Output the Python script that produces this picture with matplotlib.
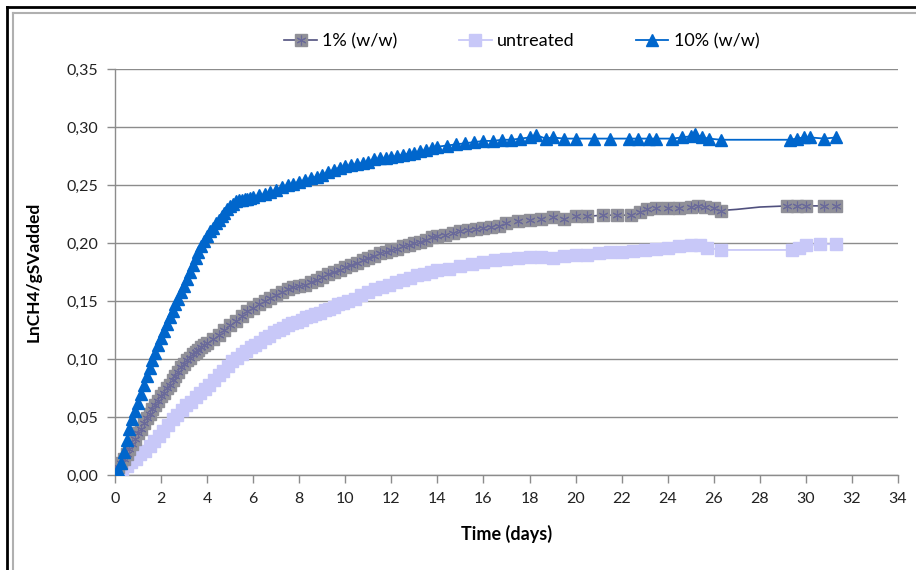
import numpy as np
import matplotlib.pyplot as plt
from matplotlib.lines import Line2D
from matplotlib.legend_handler import HandlerTuple
from matplotlib.ticker import FuncFormatter

plt.rcParams['font.family'] = ['Lato', 'DejaVu Sans']

# 10% (w/w)
t10 = [0, 0.125, 0.25, 0.375, 0.5, 0.625, 0.75, 0.875, 1.0, 1.125, 1.25, 1.375, 1.5, 1.625,
       1.75, 1.875, 2.0, 2.125, 2.25, 2.375, 2.5, 2.625, 2.75, 2.875, 3.0, 3.125, 3.25, 3.375,
       3.5, 3.625, 3.75, 3.875, 4.0, 4.125, 4.25, 4.375, 4.5, 4.625, 4.75, 4.875, 5.0, 5.125,
       5.25, 5.375, 5.5, 5.625, 5.75, 5.875, 6.0, 6.25, 6.5, 6.75, 7.0, 7.25, 7.5, 7.75, 8.0,
       8.25, 8.5, 8.75, 9.0, 9.25, 9.5, 9.75, 10.0, 10.25, 10.5, 10.75, 11.0, 11.25, 11.5,
       11.75, 12.0, 12.25, 12.5, 12.75, 13.0, 13.25, 13.5, 13.75, 14.0, 14.4, 14.8, 15.2, 15.6,
       16.0, 16.4, 16.8, 17.2, 17.6, 18.0, 18.3, 18.7, 19.0, 19.5, 20.0, 20.8, 21.5, 22.3,
       22.7, 23.2, 23.5, 24.2, 24.6, 25.0, 25.2, 25.5, 25.8, 26.3, 29.3, 29.6, 29.9, 30.2,
       30.8, 31.3]
y10 = [0.000, 0.004, 0.010, 0.020, 0.030, 0.040, 0.048, 0.055, 0.062, 0.070, 0.078, 0.085,
       0.092, 0.099, 0.105, 0.112, 0.118, 0.124, 0.130, 0.136, 0.141, 0.147, 0.152, 0.158,
       0.163, 0.169, 0.175, 0.181, 0.187, 0.192, 0.197, 0.202, 0.206, 0.210, 0.213, 0.217,
       0.220, 0.223, 0.226, 0.229, 0.232, 0.234, 0.236, 0.237, 0.237, 0.238, 0.238, 0.239,
       0.240, 0.241, 0.242, 0.244, 0.246, 0.248, 0.250, 0.251, 0.253, 0.254, 0.256, 0.257,
       0.259, 0.261, 0.263, 0.265, 0.266, 0.267, 0.268, 0.269, 0.270, 0.272, 0.273, 0.273,
       0.274, 0.275, 0.276, 0.277, 0.278, 0.279, 0.280, 0.282, 0.283, 0.284, 0.285, 0.286,
       0.287, 0.288, 0.288, 0.289, 0.289, 0.290, 0.291, 0.293, 0.290, 0.291, 0.290, 0.290,
       0.290, 0.290, 0.290, 0.290, 0.290, 0.290, 0.290, 0.291, 0.292, 0.294, 0.291, 0.290,
       0.289, 0.289, 0.290, 0.291, 0.291, 0.290, 0.291]

# 1% (w/w)
t1 = [0, 0.125, 0.25, 0.375, 0.5, 0.625, 0.75, 0.875, 1.0, 1.125, 1.25, 1.375, 1.5, 1.625,
      1.75, 1.875, 2.0, 2.125, 2.25, 2.375, 2.5, 2.625, 2.75, 2.875, 3.0, 3.125, 3.25, 3.375,
      3.5, 3.625, 3.75, 3.875, 4.0, 4.25, 4.5, 4.75, 5.0, 5.25, 5.5, 5.75, 6.0, 6.25, 6.5,
      6.75, 7.0, 7.25, 7.5, 7.75, 8.0, 8.25, 8.5, 8.75, 9.0, 9.25, 9.5, 9.75, 10.0, 10.25,
      10.5, 10.75, 11.0, 11.25, 11.5, 11.75, 12.0, 12.25, 12.5, 12.75, 13.0, 13.25, 13.5,
      13.75, 14.0, 14.33, 14.67, 15.0, 15.33, 15.67, 16.0, 16.33, 16.67, 17.0, 17.5, 18.0,
      18.5, 19.0, 19.5, 20.0, 20.5, 21.2, 21.8, 22.4, 22.8, 23.1, 23.5, 24.0, 24.5, 25.0,
      25.3, 25.6, 26.0, 26.3, 27.0, 28.0, 29.2, 29.6, 30.0, 30.8, 31.3]
y1 = [0.004, 0.007, 0.010, 0.014, 0.018, 0.022, 0.027, 0.031, 0.036, 0.040, 0.045, 0.049,
      0.053, 0.057, 0.060, 0.064, 0.068, 0.071, 0.075, 0.078, 0.082, 0.085, 0.089, 0.093,
      0.096, 0.099, 0.101, 0.104, 0.106, 0.108, 0.110, 0.112, 0.114, 0.117, 0.121, 0.125,
      0.129, 0.133, 0.137, 0.141, 0.144, 0.147, 0.150, 0.153, 0.155, 0.158, 0.160, 0.162,
      0.163, 0.164, 0.166, 0.168, 0.171, 0.173, 0.175, 0.177, 0.179, 0.181, 0.183, 0.185,
      0.187, 0.189, 0.191, 0.192, 0.194, 0.195, 0.197, 0.198, 0.200, 0.201, 0.203, 0.205,
      0.206, 0.207, 0.209, 0.210, 0.211, 0.212, 0.213, 0.214, 0.215, 0.217, 0.219, 0.220,
      0.221, 0.222, 0.221, 0.223, 0.223, 0.224, 0.224, 0.224, 0.227, 0.229, 0.230, 0.230,
      0.230, 0.231, 0.232, 0.231, 0.230, 0.228, 0.229, 0.231, 0.232, 0.232, 0.232, 0.232,
      0.232]
m1 = [i for i, t in enumerate(t1) if t not in (27.0, 28.0)]

# untreated
tu = [0.3, 0.5, 0.7, 0.9, 1.1, 1.3, 1.5, 1.7, 1.9, 2.1, 2.3, 2.5, 2.7, 2.9, 3.1, 3.3, 3.5,
      3.7, 3.9, 4.1, 4.3, 4.5, 4.7, 4.9, 5.1, 5.3, 5.5, 5.7, 5.9, 6.1, 6.3, 6.5, 6.7, 6.9,
      7.1, 7.3, 7.5, 7.7, 7.9, 8.1, 8.3, 8.5, 8.7, 8.9, 9.1, 9.3, 9.5, 9.7, 9.9, 10.1, 10.4,
      10.7, 11.0, 11.3, 11.6, 11.9, 12.2, 12.5, 12.8, 13.1, 13.4, 13.7, 14.0, 14.5, 15.0,
      15.5, 16.0, 16.5, 17.0, 17.5, 18.0, 18.5, 19.0, 19.5, 20.0, 20.5, 21.0, 21.5, 22.0,
      22.5, 23.0, 23.5, 24.0, 24.5, 25.0, 25.4, 25.7, 26.3, 29.4, 29.7, 30.0, 30.6, 31.3]
yu = [0.004, 0.008, 0.011, 0.014, 0.018, 0.021, 0.025, 0.029, 0.034, 0.038, 0.043, 0.048,
      0.052, 0.056, 0.060, 0.063, 0.067, 0.071, 0.074, 0.078, 0.082, 0.086, 0.090, 0.094,
      0.098, 0.101, 0.104, 0.107, 0.110, 0.112, 0.115, 0.118, 0.120, 0.123, 0.125, 0.127,
      0.129, 0.131, 0.132, 0.134, 0.136, 0.137, 0.139, 0.140, 0.142, 0.143, 0.145, 0.147,
      0.148, 0.150, 0.152, 0.155, 0.158, 0.160, 0.162, 0.164, 0.166, 0.168, 0.170, 0.172,
      0.173, 0.175, 0.177, 0.178, 0.180, 0.182, 0.184, 0.185, 0.186, 0.187, 0.188, 0.188,
      0.187, 0.189, 0.190, 0.190, 0.191, 0.192, 0.192, 0.193, 0.194, 0.195, 0.196, 0.197,
      0.198, 0.198, 0.196, 0.194, 0.194, 0.196, 0.198, 0.199, 0.199]

xticks = np.arange(0, 35, 2)
yticks = np.arange(0, 0.351, 0.05)

fig = plt.figure(figsize=(9.16, 5.70), dpi=100)
ax = fig.add_axes([115/916, 1 - 475/570, 783/916, 406/570])

c_blue = '#0066cc'
c_grey = '#909098'
c_grey_line = '#50507e'
c_lav = '#c8c8f8'
ms = 8

ax.plot(tu, yu, color=c_lav, lw=1.3, marker='s', ms=ms, mfc=c_lav, mec=c_lav, zorder=3)
ax.plot(t1, y1, color=c_grey_line, lw=1.2, zorder=4)
ax.plot(np.array(t1)[m1], np.array(y1)[m1], ls='none', marker='s', ms=ms,
        mfc=c_grey, mec=c_grey, zorder=4)
ax.plot(np.array(t1)[m1], np.array(y1)[m1], ls='none', marker=(6, 2, 0), ms=7,
        mec='#6a6a9a', mew=0.8, zorder=4)
ax.plot(t10, y10, color=c_blue, lw=1.3, marker='^', ms=ms, mfc=c_blue, mec=c_blue, zorder=5)

ax.set_xlim(0, 34)
ax.set_ylim(0, 0.35)
ax.set_xticks(xticks)
ax.set_yticks(yticks)
ax.yaxis.set_major_formatter(FuncFormatter(lambda v, p: f'{v:.2f}'.replace('.', ',')))
ax.grid(axis='y', color='#8c8c8c', lw=1)
ax.set_axisbelow(True)
for s in ['top', 'right']:
    ax.spines[s].set_visible(False)
for s in ['left', 'bottom']:
    ax.spines[s].set_color('#8c8c8c')
    ax.spines[s].set_linewidth(1)
ax.tick_params(axis='both', colors='#8c8c8c', length=6, width=1, labelsize=11.5,
               labelcolor='#222222', pad=6)

ax.set_xlabel('Time (days)', fontsize=13, fontweight='bold', labelpad=14)
ax.set_ylabel('LnCH4/gSVadded', fontsize=12.5, fontweight='bold', labelpad=18)

h1 = (Line2D([], [], color=c_grey_line, lw=1.2, marker='s', ms=ms, mfc=c_grey, mec=c_grey),
      Line2D([], [], ls='none', marker=(6, 2, 0), ms=7, mec='#6a6a9a', mew=0.8))
h2 = Line2D([], [], color=c_lav, lw=1.3, marker='s', ms=ms, mfc=c_lav, mec=c_lav)
h3 = Line2D([], [], color=c_blue, lw=1.3, marker='^', ms=ms, mfc=c_blue, mec=c_blue)
fig.legend([h1, h2, h3], ['1% (w/w)', 'untreated', '10% (w/w)'],
           handler_map={tuple: HandlerTuple(ndivide=1)},
           loc='center', bbox_to_anchor=(522/916, 1 - 41/570), ncol=3, frameon=False,
           fontsize=13, handlelength=1.8, columnspacing=3.4, handletextpad=0.3)

# chart border
fig.add_artist(Line2D([7/916, 7/916], [0, 1 - 7/570], color='black', lw=2))
fig.add_artist(Line2D([7/916, 1], [1 - 7/570, 1 - 7/570], color='black', lw=2))
fig.add_artist(Line2D([13/916, 13/916], [0, 1 - 13/570], color='#b0b0b0', lw=1.5))
fig.add_artist(Line2D([13/916, 1], [1 - 13/570, 1 - 13/570], color='#b0b0b0', lw=1.5))

fig.savefig('out.png', dpi=100)
